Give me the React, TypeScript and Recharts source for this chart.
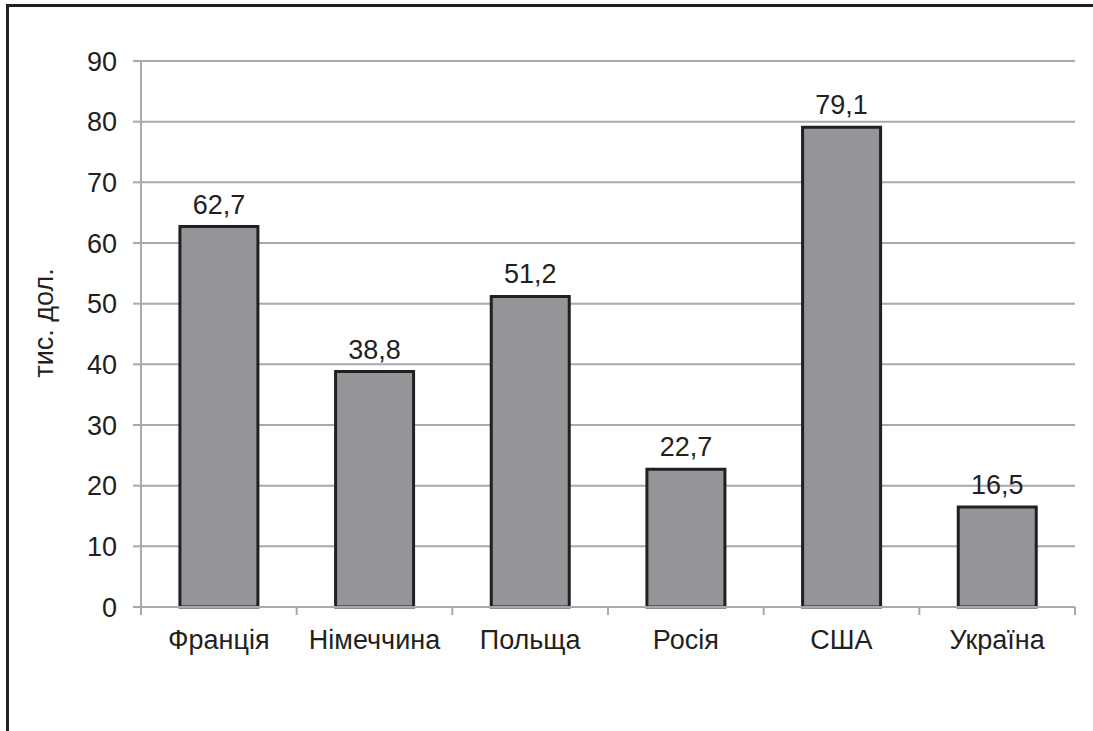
import React from 'react';
import { BarChart, Bar, XAxis, YAxis, CartesianGrid, LabelList, Label } from 'recharts';

const categories = ['Франція', 'Німеччина', 'Польща', 'Росія', 'США', 'Україна'];
const values = [62.7, 38.8, 51.2, 22.7, 79.1, 16.5];
const yTicks = [0, 10, 20, 30, 40, 50, 60, 70, 80, 90];
const yAxisTitle = 'тис. дол.';

const data = categories.map((c, i) => ({ name: c, value: values[i] }));

const W = 1093;
const H = 731;
const MARGIN = { top: 61, right: 18, left: 0, bottom: 94 };
const Y_AXIS_W = 141;
const PLOT_W = W - MARGIN.left - MARGIN.right - Y_AXIS_W;
const BAND = PLOT_W / categories.length;
const GRID = '#a7a9ac';
const TEXT = '#231f20';
const FONT = '"Liberation Sans", Arial, sans-serif';
const FS = 27;

const XTick = (props: any) => {
  const { x, y, payload, index } = props;
  const isLast = index === categories.length - 1;
  return (
    <g>
      <line x1={x - BAND / 2} x2={x - BAND / 2} y1={y} y2={y + 8} stroke={GRID} strokeWidth={2} />
      {isLast && <line x1={x + BAND / 2} x2={x + BAND / 2} y1={y} y2={y + 8} stroke={GRID} strokeWidth={2} />}
      <text x={x} y={y + 42} textAnchor="middle" fontSize={FS} fill={TEXT} fontFamily={FONT}>
        {payload.value}
      </text>
    </g>
  );
};

export default function App() {
  return (
    <div style={{ position: 'fixed', left: 0, top: 0, width: W, height: H, background: '#fff', overflow: 'hidden' }}>
      <div style={{ position: 'absolute', left: 6, top: 4, width: W, height: 3, background: TEXT }} />
      <div style={{ position: 'absolute', left: 6, top: 4, width: 3, height: H, background: TEXT }} />
      <div style={{ position: 'absolute', left: 0, top: 0 }}>
        <BarChart width={W} height={H} data={data} margin={MARGIN} barCategoryGap="25%">
          <CartesianGrid vertical={false} stroke={GRID} strokeWidth={2} />
          <XAxis
            dataKey="name"
            axisLine={{ stroke: GRID, strokeWidth: 2 }}
            tickLine={false}
            tickSize={0}
            tickMargin={0}
            height={30}
            interval={0}
            tick={<XTick />}
          />
          <YAxis
            domain={[0, 90]}
            ticks={yTicks}
            width={Y_AXIS_W}
            axisLine={{ stroke: GRID, strokeWidth: 2 }}
            tickLine={{ stroke: GRID, strokeWidth: 2 }}
            tickSize={8}
            tickMargin={16}
            tick={{ fontSize: FS, fill: TEXT, fontFamily: FONT }}
          >
            <Label
              content={() => {
                const cx = 44;
                const cy = 323;
                return (
                  <text
                    x={cx}
                    y={cy}
                    transform={`rotate(-90 ${cx} ${cy})`}
                    textAnchor="middle"
                    dominantBaseline="central"
                    fontSize={FS}
                    fill={TEXT}
                    fontFamily={FONT}
                  >
                    {yAxisTitle}
                  </text>
                );
              }}
            />
          </YAxis>
          <Bar dataKey="value" fill="#939598" stroke={TEXT} strokeWidth={3} isAnimationActive={false}>
            <LabelList
              dataKey="value"
              position="top"
              offset={13}
              fontSize={FS}
              fill={TEXT}
              fontFamily={FONT}
              formatter={(v: any) => String(v).replace('.', ',')}
            />
          </Bar>
        </BarChart>
      </div>
    </div>
  );
}
